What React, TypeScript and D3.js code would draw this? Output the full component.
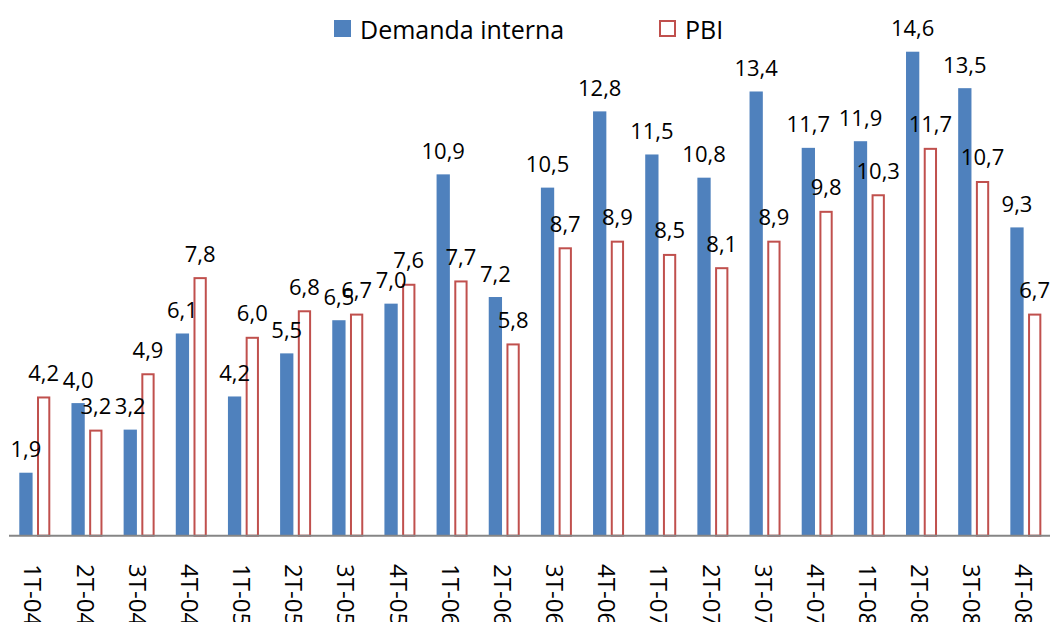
import React from 'react';
import * as d3 from 'd3';

const categories = [
  '1T-04', '2T-04', '3T-04', '4T-04',
  '1T-05', '2T-05', '3T-05', '4T-05',
  '1T-06', '2T-06', '3T-06', '4T-06',
  '1T-07', '2T-07', '3T-07', '4T-07',
  '1T-08', '2T-08', '3T-08', '4T-08',
];

const demandaInterna = [1.9, 4.0, 3.2, 6.1, 4.2, 5.5, 6.5, 7.0, 10.9, 7.2, 10.5, 12.8, 11.5, 10.8, 13.4, 11.7, 11.9, 14.6, 13.5, 9.3];
const pbi = [4.2, 3.2, 4.9, 7.8, 6.0, 6.8, 6.7, 7.6, 7.7, 5.8, 8.7, 8.9, 8.5, 8.1, 8.9, 9.8, 10.3, 11.7, 10.7, 6.7];

const seriesNames = ['Demanda interna', 'PBI'];

const BLUE = '#4F81BD';
const RED = '#C0504D';
const FONT = '"Open Sans", Lato, sans-serif';

const App = () => {
  const Width = 1050;
  const Height = 622;
  const baseY = 535.7;
  const unit = 33.15; // px per percentage point
  const band = 52.16;
  const left = 9;

  const xScale = d3.scaleBand<string>()
    .domain(categories)
    .range([left, left + band * categories.length])
    .padding(0);

  const inner = d3.scaleBand<string>()
    .domain(seriesNames)
    .range([10.3, 41.3])
    .paddingInner(0.25);

  const yScale = d3.scaleLinear().domain([0, 1]).range([baseY, baseY - unit]);

  const fmt = (v: number) => v.toFixed(1).replace('.', ',');

  const bars = categories.map((c, i) => {
    const x0 = xScale(c) as number;
    const bx = x0 + (inner(seriesNames[0]) as number);
    const px = x0 + (inner(seriesNames[1]) as number);
    const bw = inner.bandwidth();
    const dy = yScale(demandaInterna[i]);
    const py = yScale(pbi[i]);
    return (
      <g key={c}>
        <rect x={bx} y={dy} width={bw} height={baseY - dy} fill={BLUE} />
        <rect x={px + 1} y={py + 1} width={bw - 2} height={baseY - py - 1} fill="#fff" stroke={RED} strokeWidth={2} />
        <text x={bx + bw / 2} y={dy - 15.5} textAnchor="middle" style={{ fontSize: '22px', fontFamily: FONT }} fill="#000">
          {fmt(demandaInterna[i])}
        </text>
        <text x={px + bw / 2} y={py - 15.5} textAnchor="middle" style={{ fontSize: '22px', fontFamily: FONT }} fill="#000">
          {fmt(pbi[i])}
        </text>
        <text
          transform={`translate(${x0 + band / 2 - 2}, 564) rotate(90)`}
          dy="0.36em"
          style={{ fontSize: '24px', fontFamily: FONT }}
          fill="#000"
        >
          {c}
        </text>
      </g>
    );
  });

  const legendData = [
    { label: seriesNames[0], x: 334, fill: BLUE, stroke: 'none' },
    { label: seriesNames[1], x: 659, fill: '#fff', stroke: RED },
  ];

  const legend = legendData.map((d) => (
    <g key={d.label}>
      {d.stroke === 'none'
        ? <rect x={d.x} y={20} width={17} height={17} fill={d.fill} />
        : <rect x={d.x + 1} y={21} width={15} height={15} fill={d.fill} stroke={d.stroke} strokeWidth={2} />}
      <text x={d.x + 26} y={39} style={{ fontSize: '25px', fontFamily: FONT }} fill="#000">{d.label}</text>
    </g>
  ));

  return (
    <svg width={Width} height={Height} style={{ position: 'absolute', left: 0, top: 0, background: '#fff' }}>
      {bars}
      <line x1={left} x2={Width} y1={baseY} y2={baseY} stroke="#868686" strokeWidth={2} />
      {legend}
    </svg>
  );
};

export default App;
